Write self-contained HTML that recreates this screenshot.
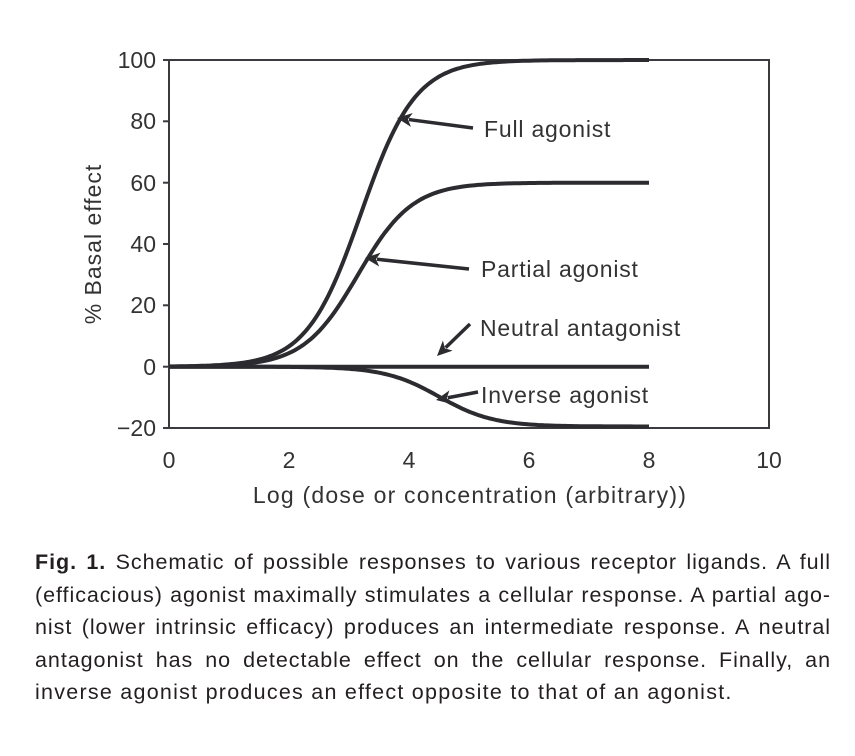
<!DOCTYPE html>
<html><head><style>
body{margin:0;background:#fff;width:855px;height:756px;overflow:hidden;position:relative;font-family:"Liberation Sans",sans-serif;}
#cap{position:absolute;left:35px;top:546px;width:796px;font-size:21.5px;letter-spacing:0.95px;line-height:32.5px;color:#231f20;}
#cap div{text-align:justify;text-align-last:justify;white-space:nowrap;}
#cap div.l{text-align-last:left;letter-spacing:1.25px;}
</style></head><body>
<svg id="s" width="855" height="540" style="position:absolute;left:0;top:0" font-family="Liberation Sans, sans-serif">
<rect x="169" y="60" width="600" height="368" fill="none" stroke="#3a3a3f" stroke-width="2"/>
<g stroke="#3a3a3f" stroke-width="2">
<line x1="163" y1="60" x2="169" y2="60"/><line x1="163" y1="121.3" x2="169" y2="121.3"/><line x1="163" y1="182.7" x2="169" y2="182.7"/><line x1="163" y1="244" x2="169" y2="244"/><line x1="163" y1="305.3" x2="169" y2="305.3"/><line x1="163" y1="366.7" x2="169" y2="366.7"/><line x1="163" y1="428" x2="169" y2="428"/>
</g>
<g font-size="23" fill="#333" text-anchor="end">
<text x="156" y="68">100</text><text x="156" y="129">80</text><text x="156" y="191">60</text><text x="156" y="252">40</text><text x="156" y="313">20</text><text x="156" y="375">0</text><text x="156" y="436">−20</text>
</g>
<g font-size="23" fill="#333" text-anchor="middle">
<text x="169" y="468">0</text><text x="289" y="468">2</text><text x="409" y="468">4</text><text x="529" y="468">6</text><text x="649" y="468">8</text><text x="769" y="468">10</text>
</g>
<text x="470" y="503" font-size="23" letter-spacing="1.2" fill="#333" text-anchor="middle">Log (dose or concentration (arbitrary))</text>
<text transform="translate(101,244) rotate(-90)" font-size="23" letter-spacing="1" fill="#333" text-anchor="middle">% Basal effect</text>
<g id="c" fill="none" stroke="#2b2b30" stroke-width="4"></g>
<line x1="169" y1="366.7" x2="649" y2="366.7" stroke="#2b2b30" stroke-width="4"/>
<g id="ar" stroke="#2b2b30" stroke-width="3.5" fill="#2b2b30"></g>
<g font-size="23" fill="#333" letter-spacing="0.8">
<text x="484" y="137">Full agonist</text><text x="481" y="277">Partial agonist</text><text x="480" y="336">Neutral antagonist</text><text x="481" y="403">Inverse agonist</text>
</g>
</svg>
<script>
var NS="http://www.w3.org/2000/svg";
function p(m,mid,k){var d="";for(var i=0;i<=160;i++){var x=i*0.05;var v=m/(1+Math.exp(-k*(x-mid)));var X=169+x*60,Y=366.7-v*3.0667;d+=(i?"L":"M")+X.toFixed(1)+","+Y.toFixed(1);}return d;}
var g=document.getElementById("c");
[[100,3.2,2.2],[60,3.15,2.2],[-19.5,4.5,2.2]].forEach(function(a){var e=document.createElementNS(NS,"path");e.setAttribute("d",p(a[0],a[1],a[2]));g.appendChild(e);});
var ag=document.getElementById("ar");
[[473,128,397,118],[469,269,365,258],[470,324,437,356],[478,392,436,400]].forEach(function(a){
var dx=a[2]-a[0],dy=a[3]-a[1],L=Math.sqrt(dx*dx+dy*dy),ux=dx/L,uy=dy/L,nx=-uy,ny=ux,h=15,w=7;
var bx=a[2]-ux*h,by=a[3]-uy*h;
var l=document.createElementNS(NS,"line");l.setAttribute("x1",a[0]);l.setAttribute("y1",a[1]);l.setAttribute("x2",bx+ux*3);l.setAttribute("y2",by+uy*3);ag.appendChild(l);
var t=document.createElementNS(NS,"polygon");t.setAttribute("stroke","none");
t.setAttribute("points",a[2]+","+a[3]+" "+(bx+nx*w)+","+(by+ny*w)+" "+(bx+ux*4)+","+(by+uy*4)+" "+(bx-nx*w)+","+(by-ny*w));ag.appendChild(t);});
</script>
<div id="cap">
<div><b>Fig. 1.</b> Schematic of possible responses to various receptor ligands. A full</div>
<div>(efficacious) agonist maximally stimulates a cellular response. A partial ago-</div>
<div>nist (lower intrinsic efficacy) produces an intermediate response. A neutral</div>
<div>antagonist has no detectable effect on the cellular response. Finally, an</div>
<div class="l">inverse agonist produces an effect opposite to that of an agonist.</div>
</div>
</body></html>
